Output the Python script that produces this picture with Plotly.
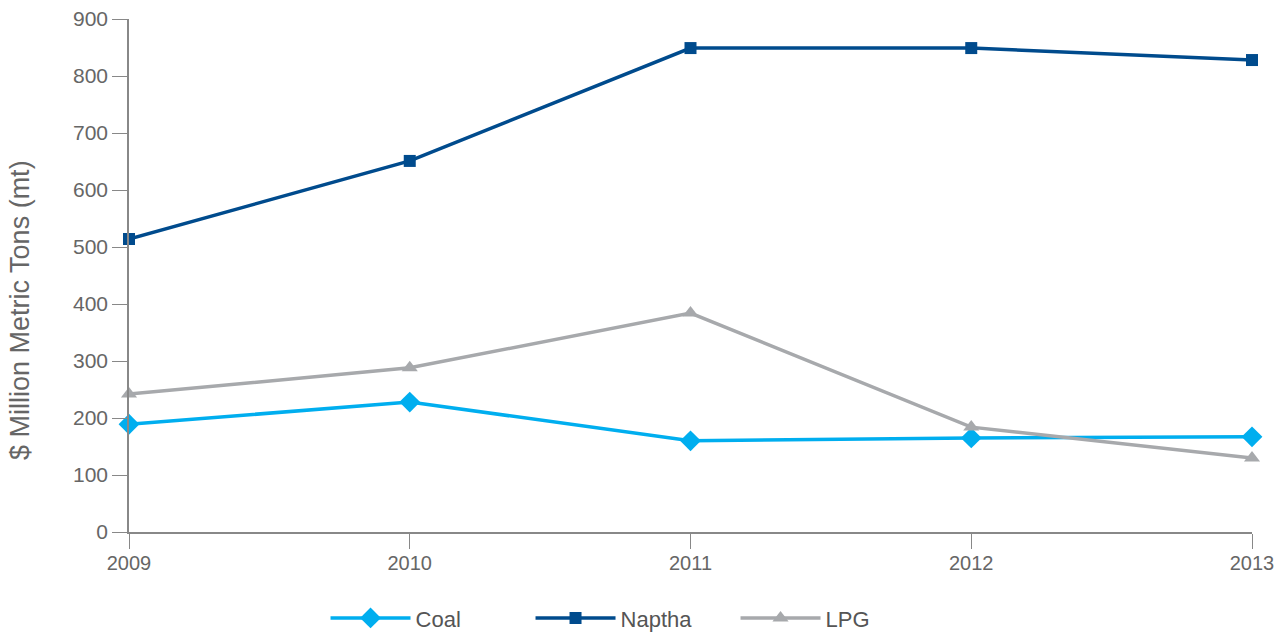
import plotly.graph_objects as go

years = [2009, 2010, 2011, 2012, 2013]
coal = [189, 228, 160, 165, 167]
naptha = [514, 651, 849, 849, 828]
lpg = [242, 288, 384, 184, 130]
y_ticks = [0, 100, 200, 300, 400, 500, 600, 700, 800, 900]

fig = go.Figure()
fig.add_trace(go.Scatter(x=years, y=coal, name="Coal", mode="lines+markers",
                         line=dict(color="#00AEEF", width=3.5),
                         marker=dict(symbol="diamond", size=16, color="#00AEEF"),
                         cliponaxis=False))
fig.add_trace(go.Scatter(x=years, y=naptha, name="Naptha", mode="lines+markers",
                         line=dict(color="#004B8D", width=3.5),
                         marker=dict(symbol="square", size=12, color="#004B8D"),
                         cliponaxis=False))
fig.add_trace(go.Scatter(x=years, y=lpg, name="LPG", mode="lines+markers",
                         line=dict(color="#A7A9AC", width=3.5),
                         marker=dict(symbol="triangle-up", size=14, color="#A7A9AC"),
                         cliponaxis=False))

font_family = "Liberation Sans, Arial, sans-serif"
fig.update_layout(
    width=1281, height=632,
    margin=dict(l=129, r=29, t=19, b=100, autoexpand=False),
    paper_bgcolor="white", plot_bgcolor="white",
    font=dict(family=font_family, color="#666666", size=20),
    showlegend=True,
    legend=dict(orientation="h", x=0.175, xanchor="left", y=-0.127, yanchor="top",
                font=dict(size=22, color="#555555"), itemwidth=80,
                entrywidth=110, traceorder="normal"),
    xaxis=dict(range=[2009, 2013], tickvals=years, ticktext=[str(y) for y in years],
               showgrid=False, zeroline=False, showline=True, linecolor="#888888",
               linewidth=1.5, ticks="outside", ticklen=15, tickcolor="#888888",
               ticklabelstandoff=-3,
               tickfont=dict(size=20, color="#666666")),
    yaxis=dict(range=[0, 900], tickvals=y_ticks, showgrid=False, zeroline=False,
               showline=True, linecolor="#888888", linewidth=1.5, ticks="outside",
               ticklen=15, tickcolor="#888888", tickfont=dict(size=21, color="#666666")),
    annotations=[dict(text="$ Million Metric Tons (mt)", textangle=-90,
                      xref="paper", yref="paper", x=-0.097, y=0.433,
                      xanchor="center", yanchor="middle", showarrow=False,
                      font=dict(size=27, color="#666666"))],
)

fig.write_html("out.html")
